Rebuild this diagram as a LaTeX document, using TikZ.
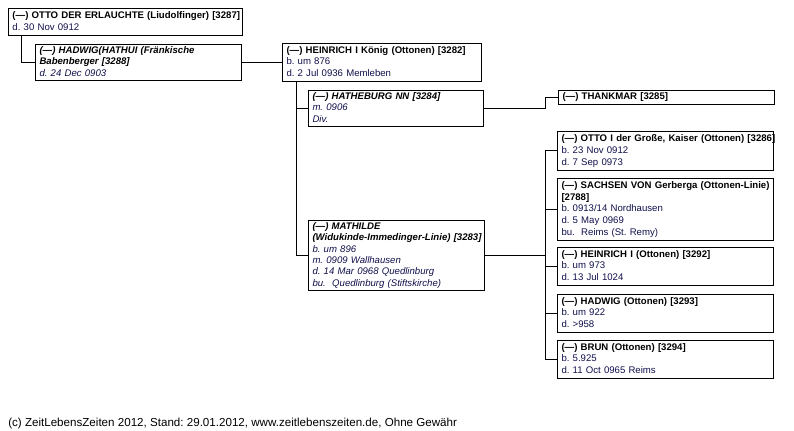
\documentclass[tikz,border=0pt]{standalone}
\usepackage{fontspec}
\setmainfont{Liberation Sans}
\frenchspacing
\definecolor{det}{RGB}{15,15,75}
\newcommand\famtab[1]{\begin{tabular}{@{}l@{}}#1\end{tabular}}
\newcommand\famdet[1]{\textcolor{det}{#1}}
\begin{document}
\frenchspacing
\begin{tikzpicture}[x=0.75pt,y=-0.75pt,
  fam/.style={draw, line width=0.75pt, anchor=north west, inner xsep=3pt, inner ysep=0.5pt,
    align=left, font=\fontsize{7.2}{8.8}\selectfont},
  ital/.style={font=\fontsize{7.2}{8.6}\selectfont\itshape},
  conn/.style={line width=0.75pt}]
\useasboundingbox (0,0) rectangle (794,431);

\node[fam, minimum width=175.5pt, minimum height=20.25pt, text width=169.5pt] (otto) at (8,8)
  {\famtab{\textbf{(---) OTTO DER ERLAUCHTE (Liudolfinger) [3287]}\\ \famdet{d. 30 Nov 0912}}};
\node[fam, ital, minimum width=154.5pt, minimum height=27pt, text width=148.5pt] (hadwig) at (35,44)
  {\famtab{\textbf{(---) HADWIG(HATHUI (Fränkische}\\ \textbf{Babenberger [3288]}\\ \famdet{d. 24 Dec 0903}}};
\node[fam, minimum width=149.25pt, minimum height=28.5pt, text width=143.25pt] (heinrich) at (282,43)
  {\famtab{\textbf{(---) HEINRICH I König (Ottonen) [3282]}\\ \famdet{b. um 876}\\ \famdet{d. 2 Jul 0936 Memleben}}};
\node[fam, ital, minimum width=131.25pt, minimum height=27pt, text width=125.25pt] (hatheburg) at (308,90)
  {\famtab{\textbf{(---) HATHEBURG NN [3284]}\\ \famdet{m. 0906}\\ \famdet{Div.}}};
\node[fam, minimum width=162pt, minimum height=10.5pt, text width=156pt] (thankmar) at (558,90)
  {\famtab{\textbf{(---) THANKMAR [3285]}}};
\node[fam, minimum width=162pt, minimum height=29.25pt, text width=156pt] (otto1) at (557,131)
  {\famtab{\textbf{(---) OTTO I der Große, Kaiser (Ottonen) [3286]}\\ \famdet{b. 23 Nov 0912}\\ \famdet{d. 7 Sep 0973}}};
\node[fam, minimum width=162pt, minimum height=46.5pt, text width=156pt] (sachsen) at (557,178)
  {\famtab{\textbf{(---) SACHSEN VON Gerberga (Ottonen-Linie)}\\ \textbf{[2788]}\\ \famdet{b. 0913/14 Nordhausen}\\ \famdet{d. 5 May 0969}\\ \famdet{bu.\ \ Reims (St. Remy)}}};
\node[fam, ital, inner ysep=0pt, minimum width=132pt, minimum height=52.5pt, text width=126pt] (mathilde) at (308,220)
  {\famtab{\textbf{(---) MATHILDE}\\ \textbf{(Widukinde-Immedinger-Linie) [3283]}\\ \famdet{b. um 896}\\ \famdet{m. 0909 Wallhausen}\\ \famdet{d. 14 Mar 0968 Quedlinburg}\\ \famdet{bu.\ \ Quedlinburg (Stiftskirche)}}};
\node[fam, minimum width=162pt, minimum height=28.5pt, text width=156pt] (heinrich2) at (557,247)
  {\famtab{\textbf{(---) HEINRICH I (Ottonen) [3292]}\\ \famdet{b. um 973}\\ \famdet{d. 13 Jul 1024}}};
\node[fam, minimum width=162pt, minimum height=28.5pt, text width=156pt] (hadwig2) at (557,294)
  {\famtab{\textbf{(---) HADWIG (Ottonen) [3293]}\\ \famdet{b. um 922}\\ \famdet{d. >958}}};
\node[fam, minimum width=162pt, minimum height=28.5pt, text width=156pt] (brun) at (557,340)
  {\famtab{\textbf{(---) BRUN (Ottonen) [3294]}\\ \famdet{b. 5.925}\\ \famdet{d. 11 Oct 0965 Reims}}};

\node[anchor=west, inner sep=0pt, font=\fontsize{8.7}{10}\selectfont] (foot) at (8,423)
  {(c) ZeitLebensZeiten 2012, Stand: 29.01.2012, www.zeitlebenszeiten.de, Ohne Gewähr};

\draw[conn] ([xshift=9.75pt]otto.south west) |- (hadwig.west);
\draw[conn] (hadwig.east) -- (heinrich.west);
\draw[conn] ([xshift=10.5pt]heinrich.south west) |- (hatheburg.west);
\draw[conn] ([xshift=10.5pt]heinrich.south west) |- (mathilde.west);
\draw[conn] (hatheburg.east) -| ([xshift=-9.75pt]thankmar.west) -- (thankmar.west);
\coordinate (bus) at ([xshift=-9pt]otto1.west);
\draw[conn] (mathilde.east) -- (mathilde.east -| bus);
\draw[conn] (bus) -- (bus |- brun.west);
\foreach \c in {otto1,sachsen,heinrich2,hadwig2,brun} \draw[conn] (bus |- \c.west) -- (\c.west);
\end{tikzpicture}
\end{document}
